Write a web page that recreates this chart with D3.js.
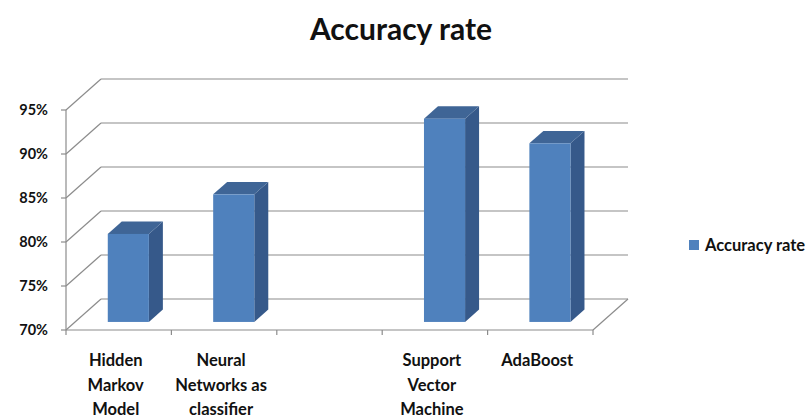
<!DOCTYPE html>
<html>
<head>
<meta charset="utf-8">
<script src="https://cdn.jsdelivr.net/npm/d3@7"></script>
<style>
  body { margin: 0; background: #fff; }
  text { font-family: Lato, "Open Sans", sans-serif; font-weight: bold; fill: #111; }
</style>
</head>
<body>
<svg id="chart" width="808" height="420"></svg>
<script>
// chart data
const categories = [
  ['Hidden', 'Markov', 'Model'],
  ['Neural', 'Networks as', 'classifier'],
  [],
  ['Support', 'Vector', 'Machine'],
  ['AdaBoost']
];
const accuracy = [0.80, 0.845, null, 0.931, 0.903];
const yTicks = [0.70, 0.75, 0.80, 0.85, 0.90, 0.95];
const seriesName = 'Accuracy rate';

const svg = d3.select('#chart');

// front plane + depth vector of the 3d box
const depthX = 35;
const depthY = -31;
const barZ0 = 0.26;
const barZ1 = 0.66;

const x = d3.scaleBand()
  .domain(d3.range(categories.length))
  .range([66, 593]);
const y = d3.scaleLinear()
  .domain([0.70, 0.95])
  .range([330, 110]);

const grid = svg.append('g')
  .attr('stroke', '#8c8c8c')
  .attr('stroke-width', 1.2)
  .attr('fill', 'none');

// side wall diagonals and back wall lines
yTicks.forEach(t => {
  grid.append('line')
    .attr('x1', x.range()[0]).attr('y1', y(t))
    .attr('x2', x.range()[0] + depthX).attr('y2', y(t) + depthY);
  grid.append('line')
    .attr('x1', x.range()[0] + depthX).attr('y1', y(t) + depthY)
    .attr('x2', x.range()[1] + depthX).attr('y2', y(t) + depthY);
});

// floor front edge + right edge
grid.append('line')
  .attr('x1', x.range()[0]).attr('y1', y(0.70))
  .attr('x2', x.range()[1]).attr('y2', y(0.70));
grid.append('line')
  .attr('x1', x.range()[1]).attr('y1', y(0.70))
  .attr('x2', x.range()[1] + depthX).attr('y2', y(0.70) + depthY);

// y axis line + ticks
grid.append('line')
  .attr('x1', x.range()[0]).attr('y1', y(0.95))
  .attr('x2', x.range()[0]).attr('y2', y(0.70));
yTicks.forEach(t => {
  grid.append('line')
    .attr('x1', x.range()[0] - 5).attr('y1', y(t))
    .attr('x2', x.range()[0]).attr('y2', y(t));
});

// x ticks at category boundaries
const bounds = x.domain().map(i => x(i)).concat([x.range()[1]]);
bounds.forEach(b => {
  grid.append('line')
    .attr('x1', b).attr('y1', y(0.70))
    .attr('x2', b).attr('y2', y(0.70) + 5);
});

// y labels
svg.append('g')
  .selectAll('text')
  .data(yTicks)
  .join('text')
  .attr('x', 48)
  .attr('y', d => y(d) + 5)
  .attr('text-anchor', 'end')
  .style('font-size', '14.5px')
  .text(d => d3.format('.0%')(d));

// x labels
const xLab = svg.append('g');
categories.forEach((lines, i) => {
  const t = xLab.append('text')
    .attr('x', x(i) + x.bandwidth() / 2 - 3)
    .attr('y', 366)
    .attr('text-anchor', 'middle')
    .style('font-size', '16.5px');
  lines.forEach((ln, k) => {
    t.append('tspan')
      .attr('x', x(i) + x.bandwidth() / 2 - 3)
      .attr('dy', k === 0 ? 0 : 24.5)
      .text(ln);
  });
});

// 3d bars
const bw = x.bandwidth();
const barW = bw * 0.39;
const bars = svg.append('g');
accuracy.forEach((v, i) => {
  if (v == null) return;
  const x0 = x(i) + bw * 0.31 + depthX * barZ0;
  const yTop = y(v) + depthY * barZ0;
  const yBot = y(0.70) + depthY * barZ0;
  const dx = depthX * (barZ1 - barZ0);
  const dy = depthY * (barZ1 - barZ0);
  const g = bars.append('g');
  // side
  g.append('polygon')
    .attr('points', [
      [x0 + barW, yTop], [x0 + barW + dx, yTop + dy],
      [x0 + barW + dx, yBot + dy], [x0 + barW, yBot]
    ].join(' '))
    .attr('fill', '#36598a');
  // top
  g.append('polygon')
    .attr('points', [
      [x0, yTop], [x0 + dx, yTop + dy],
      [x0 + barW + dx, yTop + dy], [x0 + barW, yTop]
    ].join(' '))
    .attr('fill', '#3f6596');
  // front
  g.append('rect')
    .attr('x', x0)
    .attr('y', yTop)
    .attr('width', barW)
    .attr('height', yBot - yTop)
    .attr('fill', '#4f81bd');
});

// title
svg.append('text')
  .attr('x', 401)
  .attr('y', 40)
  .attr('text-anchor', 'middle')
  .style('font-size', '30px')
  .text('Accuracy rate');

// legend
const leg = svg.append('g').attr('transform', 'translate(689,240)');
leg.append('rect')
  .attr('width', 10)
  .attr('height', 10)
  .attr('fill', '#4f81bd');
leg.append('text')
  .attr('x', 16)
  .attr('y', 11)
  .style('font-size', '16.5px')
  .text(seriesName);
</script>
</body>
</html>
